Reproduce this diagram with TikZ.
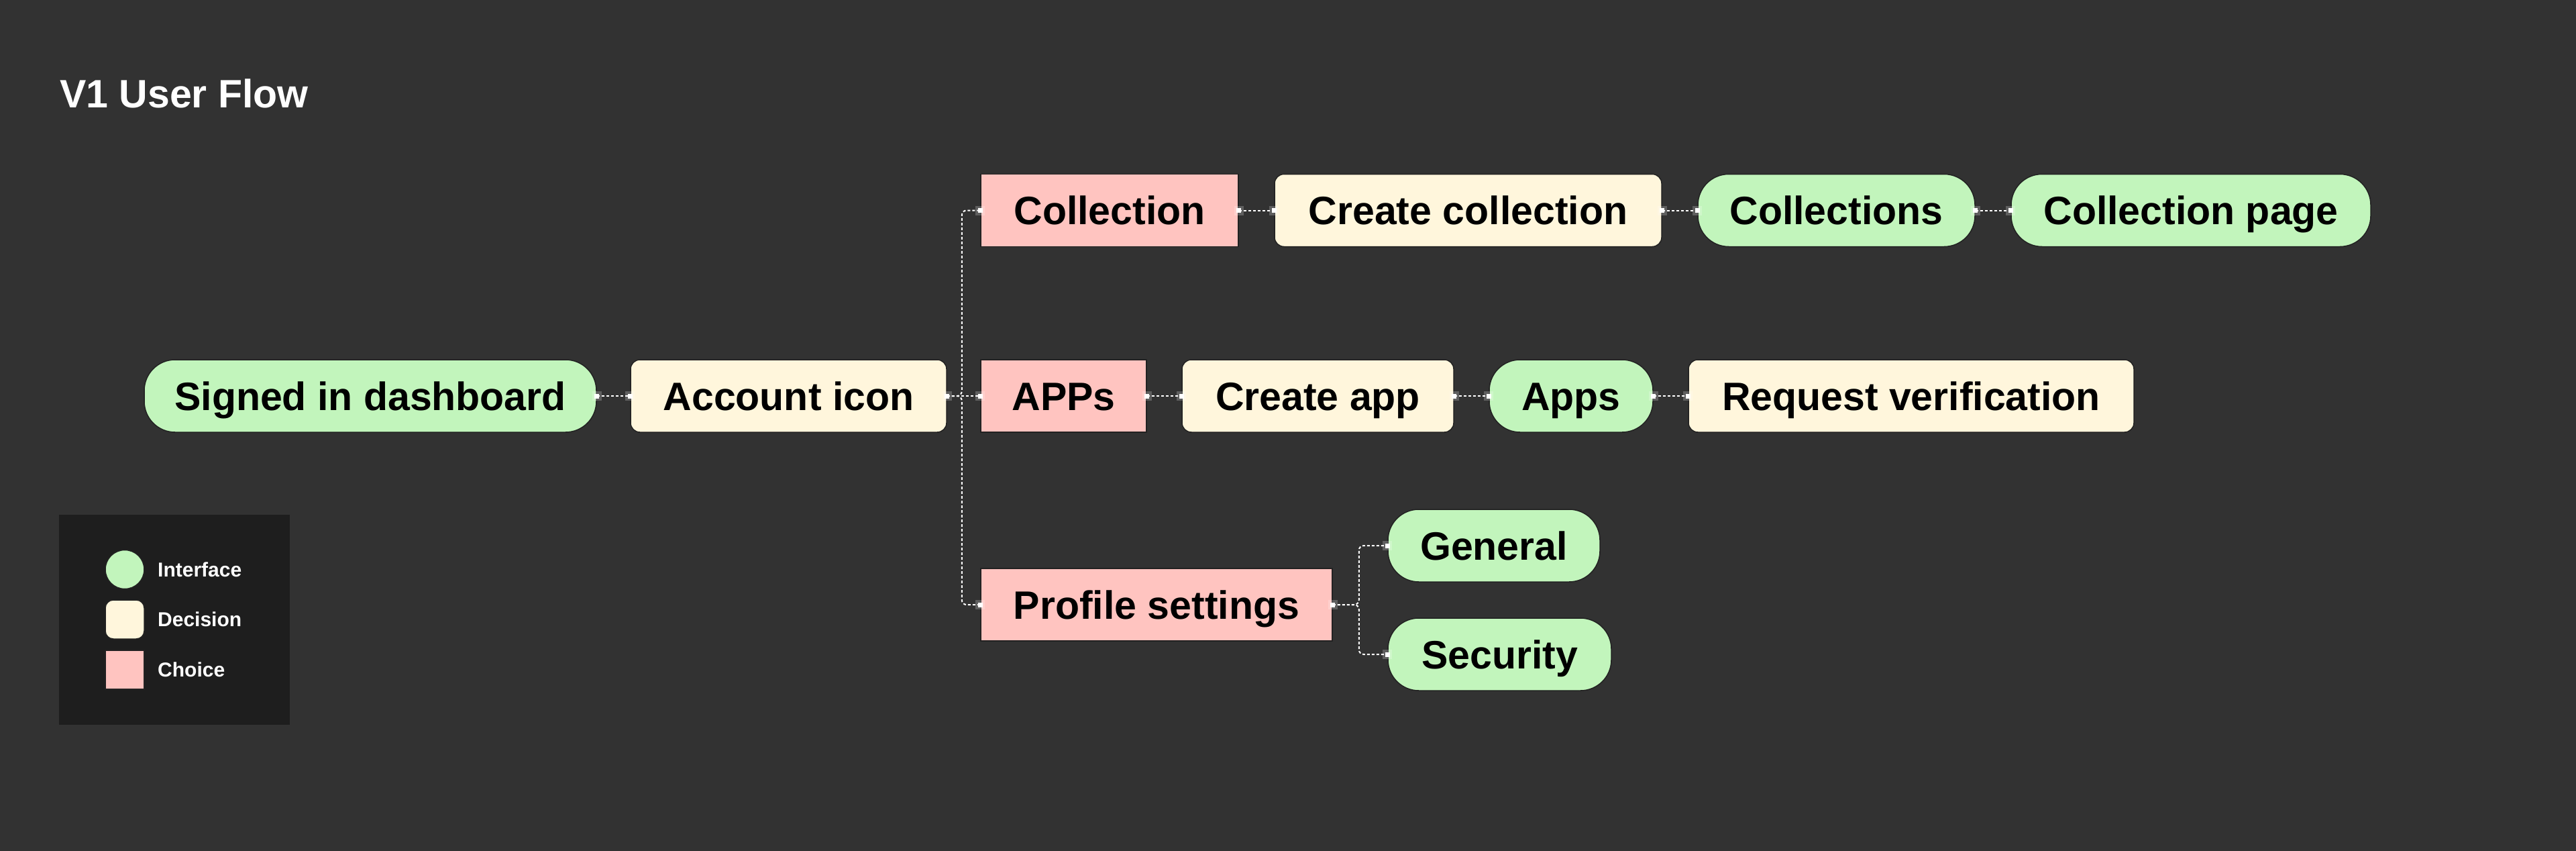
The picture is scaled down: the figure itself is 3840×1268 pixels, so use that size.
\documentclass[tikz,border=0pt]{standalone}
\usepackage{fontspec}
\setmainfont{Liberation Sans}
\definecolor{bgc}{RGB}{50,50,50}
\definecolor{legbg}{RGB}{30,30,30}
\definecolor{ifc}{RGB}{194,245,188}
\definecolor{dec}{RGB}{255,246,220}
\definecolor{cho}{RGB}{255,196,192}
\definecolor{edge}{RGB}{34,34,34}
\newcommand\mkr[1]{%
  \fill[white,opacity=0.22] (#1) ++(-7,-7) rectangle ++(14,14);
  \fill[white] (#1) ++(-3.5,-3.5) rectangle ++(7,7);}
\begin{document}
\begin{tikzpicture}[x=1pt,y=-1pt,
  box/.style={draw=edge,line width=1.5pt,minimum height=108pt,inner sep=0pt,
    text height=42pt,text depth=0pt,text=black,
    font=\fontsize{59}{61}\selectfont\bfseries},
  iface/.style={box,fill=ifc,rounded corners=46pt},
  decis/.style={box,fill=dec,rounded corners=14pt},
  choice/.style={box,fill=cho},
  conn/.style={white,line width=2pt,dash pattern=on 4pt off 3pt},
  legtxt/.style={anchor=west,text=white,inner sep=0pt,text height=21.5pt,text depth=0pt,
    font=\fontsize{30}{32}\selectfont\bfseries}]
\fill[bgc] (0,0) rectangle (3840,1268);
\useasboundingbox (0,0) rectangle (3840,1268);

\node[anchor=base west,text=white,inner sep=0pt,font=\fontsize{59}{61}\selectfont\bfseries] (title) at (89,161) {V1 User Flow};

% nodes
\node[iface,minimum width=674pt] (sid) at (552,590) {Signed in dashboard};
\node[decis,minimum width=471pt] (acc) at (1175.5,590) {Account icon};
\node[choice,minimum width=384pt] (coll) at (1654,313.5) {Collection};
\node[decis,minimum width=577pt] (ccol) at (2188.5,313.5) {Create collection};
\node[iface,minimum width=413pt] (colls) at (2737.5,313.5) {Collections};
\node[iface,minimum width=536pt] (cpage) at (3266,313.5) {Collection page};
\node[choice,minimum width=247pt] (apps1) at (1585.5,590) {APPs};
\node[decis,minimum width=405pt] (capp) at (1964.5,590) {Create app};
\node[iface,minimum width=244pt] (apps) at (2342,590) {Apps};
\node[decis,minimum width=664pt] (req) at (2849,590) {Request verification};
\node[choice,minimum width=524pt] (prof) at (1724,901) {Profile settings};
\node[iface,minimum width=316pt] (gen) at (2227,813) {General};
\node[iface,minimum width=333pt] (sec) at (2235.5,975) {Security};

% connectors
\draw[conn] (sid.east) -- (acc.west);
\draw[conn,rounded corners=7pt] (acc.east) -- ++(22,0) |- (coll.west);
\draw[conn] (acc.east) -- (apps1.west);
\draw[conn,rounded corners=7pt] (acc.east) -- ++(22,0) |- (prof.west);
\draw[conn] (coll.east) -- (ccol.west);
\draw[conn] (ccol.east) -- (colls.west);
\draw[conn] (colls.east) -- (cpage.west);
\draw[conn] (apps1.east) -- (capp.west);
\draw[conn] (capp.east) -- (apps.west);
\draw[conn] (apps.east) -- (req.west);
\draw[conn,rounded corners=7pt] (prof.east) -- ++(39,0) |- (gen.west);
\draw[conn,rounded corners=7pt] (prof.east) -- ++(39,0) |- (sec.west);

% endpoint markers
\mkr{sid.east} \mkr{acc.west} \mkr{acc.east}
\mkr{coll.west} \mkr{coll.east} \mkr{ccol.west} \mkr{ccol.east}
\mkr{colls.west} \mkr{colls.east} \mkr{cpage.west}
\mkr{apps1.west} \mkr{apps1.east} \mkr{capp.west} \mkr{capp.east}
\mkr{apps.west} \mkr{apps.east} \mkr{req.west}
\mkr{prof.west} \mkr{prof.east} \mkr{gen.west} \mkr{sec.west}

% legend
\node[fill=legbg,anchor=north west,minimum width=344pt,minimum height=313pt,inner sep=0pt] (legend) at (88,767) {};
\node[circle,fill=ifc,draw=edge,line width=1.5pt,minimum size=58pt,inner sep=0pt] (lgi) at (186,848.5) {};
\node[fill=dec,draw=edge,line width=1.5pt,rounded corners=12pt,minimum size=58pt,inner sep=0pt] (lgd) at (186,923) {};
\node[fill=cho,draw=edge,line width=1.5pt,minimum size=58pt,inner sep=0pt] (lgc) at (186,998) {};
\node[legtxt] (lti) at (235,848.5) {Interface};
\node[legtxt] (ltd) at (235,923) {Decision};
\node[legtxt] (ltc) at (235,998) {Choice};
\end{tikzpicture}
\end{document}
